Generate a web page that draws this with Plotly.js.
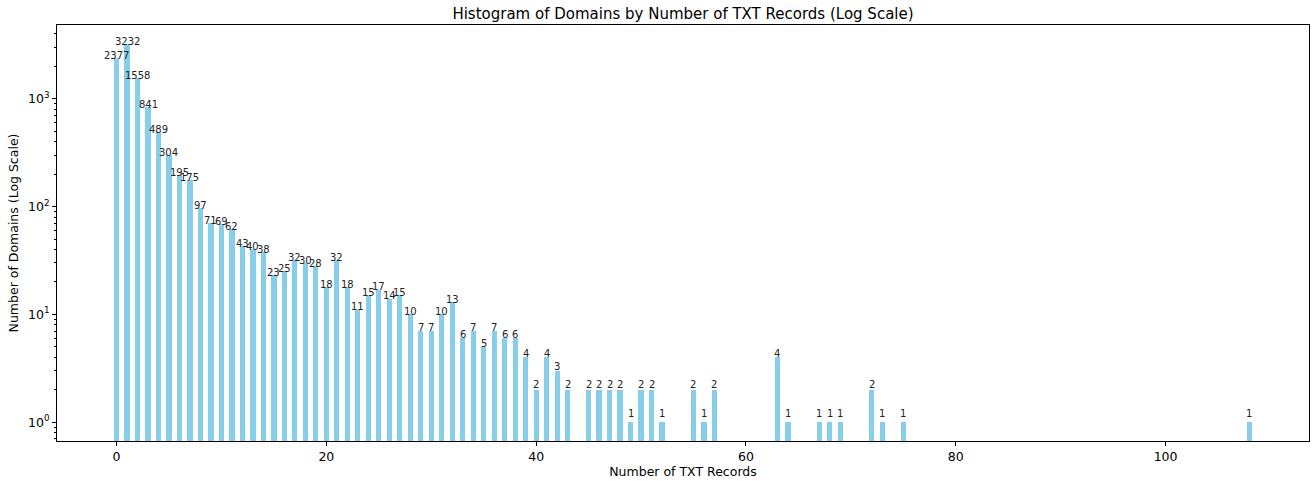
<!DOCTYPE html>
<html>
<head>
<meta charset="utf-8">
<script src="https://cdn.plot.ly/plotly-3.0.1.min.js"></script>
<style>
html,body{margin:0;padding:0;background:#fff;}
#chart{width:1313px;height:481px;}
</style>
</head>
<body>
<div id="chart"></div>
<script>
const txtRecords = [0,1,2,3,4,5,6,7,8,9,10,11,12,13,14,15,16,17,18,19,20,21,22,23,24,25,26,27,28,29,30,31,32,33,34,35,36,37,38,39,40,41,42,43,45,46,47,48,49,50,51,52,55,56,57,63,64,67,68,69,72,73,75,108];
const domainCounts = [2377,3232,1558,841,489,304,195,175,97,71,69,62,43,40,38,23,25,32,30,28,18,32,18,11,15,17,14,15,10,7,7,10,13,6,7,5,7,6,6,4,2,4,3,2,2,2,2,2,1,2,2,1,2,1,2,4,1,1,1,1,2,1,1,1];
const xTickVals = [0,20,40,60,80,100];
const yTickVals = [1,10,100,1000];
const yTickText = ['10<sup>0</sup>','10<sup>1</sup>','10<sup>2</sup>','10<sup>3</sup>'];
const yMinorVals = [];
[0.1,1,10,100,1000].forEach(d => { for (let k = 2; k <= 9; k++) yMinorVals.push(k*d); });

const font = 'DejaVu Sans, sans-serif';
const labelLift = 0.13; // label baseline sits slightly above bar top (data units)

const labels = txtRecords.map((x, i) => ({
  x: x,
  y: Math.log10(domainCounts[i] + labelLift),
  xref: 'x', yref: 'y',
  text: String(domainCounts[i]),
  showarrow: false,
  xanchor: 'center', yanchor: 'bottom',
  yshift: -4,
  borderpad: 0,
  font: {family: font, size: 10, color: '#222'}
}));

Plotly.newPlot('chart', [{
  type: 'bar',
  x: txtRecords,
  y: domainCounts,
  width: 0.5,
  marker: {color: '#87CEEB', line: {width: 0}},
  hoverinfo: 'x+y'
}], {
  width: 1313, height: 481,
  margin: {l: 57, r: 4, t: 25, b: 40},
  paper_bgcolor: '#fff', plot_bgcolor: '#fff',
  showlegend: false,
  bargap: 0,
  annotations: labels,
  title: {text: 'Histogram of Domains by Number of TXT Records (Log Scale)', font: {family: font, size: 15, color: '#000'}, xref: 'paper', x: 0.5, xanchor: 'center', y: 0.972, yanchor: 'middle'},
  xaxis: {
    range: [-5.675, 113.675],
    tickmode: 'array', tickvals: xTickVals,
    ticks: 'outside', ticklen: 4, tickcolor: '#000', tickwidth: 1,
    showline: true, linecolor: '#000', linewidth: 1, mirror: true,
    showgrid: false, zeroline: false,
    tickfont: {family: font, size: 12.5, color: '#000'},
    title: {text: 'Number of TXT Records', font: {family: font, size: 12.5, color: '#000'}, standoff: 4}
  },
  yaxis: {
    type: 'log',
    range: [-0.175, 3.685],
    tickmode: 'array', tickvals: yTickVals, ticktext: yTickText,
    ticks: 'outside', ticklen: 4, tickcolor: '#000', tickwidth: 1,
    minor: {tickmode: 'array', tickvals: yMinorVals, ticks: 'outside', ticklen: 2, tickcolor: '#000', showgrid: false},
    showline: true, linecolor: '#000', linewidth: 1, mirror: true,
    showgrid: false, zeroline: false,
    tickfont: {family: font, size: 12.5, color: '#000'},
    title: {text: 'Number of Domains (Log Scale)', font: {family: font, size: 12.5, color: '#000'}, standoff: 6}
  }
}, {displayModeBar: false, staticPlot: true});
</script>
</body>
</html>
